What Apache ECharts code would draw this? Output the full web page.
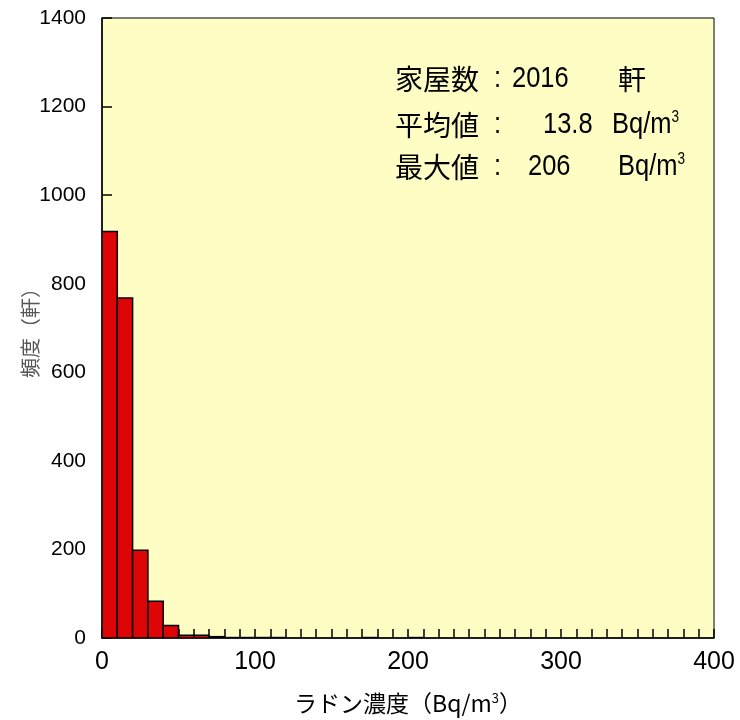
<!DOCTYPE html>
<html>
<head>
<meta charset="utf-8">
<script src="https://cdn.jsdelivr.net/npm/echarts@6/dist/echarts.min.js"></script>
<style>
  html, body { margin: 0; padding: 0; background: #fff; }
  #chart { width: 740px; height: 720px; }
</style>
</head>
<body>
<div id="chart"></div>
<script>
// Histogram of indoor radon concentration (bin width 10 Bq/m3)
const binWidth = 10;
const binStarts = [0, 10, 20, 30, 40, 50, 60, 70, 80, 90, 100, 110, 170, 200];
const binCounts = [918, 768, 198, 83, 28, 6, 6, 3, 1, 1, 1, 1, 1, 1];

const xTicks = [0, 100, 200, 300, 400];
const yTicks = [0, 200, 400, 600, 800, 1000, 1200, 1400];

const statLabels = ['家屋数', '平均値', '最大値'];
const statValues = ['2016', '13.8', '206'];
const statUnits = ['軒', 'Bq/m{s|3}', 'Bq/m{s|3}'];

const latinFont = '"Liberation Sans", Arial, sans-serif';
const cjkFont = '"Noto Sans CJK JP", sans-serif';

const histData = binStarts.map((s, i) => [s, s + binWidth, binCounts[i]]);

const chart = echarts.init(document.getElementById('chart'), null, { renderer: 'canvas' });

// Stats block: left x of each piece and vertical centre of each line
const lineY = [79, 125, 167];
const valueX = [512, 543, 528];
const unitX = [618, 612, 618];
const narrowScale = 0.85;
const graphics = [];
statLabels.forEach((lab, i) => {
  const y = lineY[i];
  graphics.push({ type: 'text', x: 395, y: y,
    style: { text: lab, fill: '#000', fontSize: 28, fontFamily: cjkFont, verticalAlign: 'middle', align: 'left' } });
  graphics.push({ type: 'text', x: 494, y: y, scaleX: narrowScale,
    style: { text: ':', fill: '#000', fontSize: 30, fontFamily: latinFont, verticalAlign: 'middle', align: 'left' } });
  graphics.push({ type: 'text', x: valueX[i], y: y, scaleX: narrowScale,
    style: { text: statValues[i], fill: '#000', fontSize: 30, fontFamily: latinFont, verticalAlign: 'middle', align: 'left' } });
  if (i === 0) {
    graphics.push({ type: 'text', x: unitX[i], y: y,
      style: { text: statUnits[i], fill: '#000', fontSize: 28, fontFamily: cjkFont, verticalAlign: 'middle', align: 'left' } });
  } else {
    graphics.push({ type: 'text', x: unitX[i], y: y, scaleX: narrowScale,
      style: { text: statUnits[i], fill: '#000', fontSize: 30, fontFamily: latinFont, verticalAlign: 'middle', align: 'left',
        rich: { s: { fontSize: 16, fontFamily: latinFont, verticalAlign: 'top', fill: '#000' } } } });
  }
});

chart.setOption({
  animation: false,
  backgroundColor: '#ffffff',
  grid: {
    left: 102, right: 26, top: 18, bottom: 82,
    outerBoundsMode: 'none',
    show: true, backgroundColor: '#fdfdc4', borderColor: '#000', borderWidth: 1
  },
  xAxis: {
    type: 'value', min: xTicks[0], max: xTicks[xTicks.length - 1], interval: 100,
    name: 'ラドン濃度（Bq/m{s|3}）',
    nameLocation: 'middle', nameGap: 54, nameMoveOverlap: false,
    nameTextStyle: {
      color: '#000', fontSize: 23, fontFamily: cjkFont,
      rich: { s: { fontSize: 13, verticalAlign: 'top', fontFamily: cjkFont } }
    },
    axisLine: { show: true, lineStyle: { color: '#000', width: 1.5 } },
    axisTick: { show: true, inside: true, length: 9, lineStyle: { color: '#000', width: 1.5 } },
    minorTick: { show: true, splitNumber: 10, length: 9, lineStyle: { color: '#000', width: 1.5 } },
    splitLine: { show: false },
    axisLabel: { color: '#000', fontSize: 25, fontFamily: latinFont, margin: 12 }
  },
  yAxis: {
    type: 'value', min: yTicks[0], max: yTicks[yTicks.length - 1], interval: 200,
    name: '頻度（軒）',
    nameLocation: 'middle', nameGap: 62, nameRotate: 90, nameMoveOverlap: false,
    nameTextStyle: { color: '#555', fontSize: 20, fontFamily: cjkFont },
    axisLine: { show: true, lineStyle: { color: '#000', width: 1.5 } },
    axisTick: { show: true, inside: true, length: 10, lineStyle: { color: '#000', width: 1.5 } },
    splitLine: { show: false },
    axisLabel: { color: '#000', fontSize: 21, fontFamily: latinFont, margin: 16,
      formatter: function (v) { return String(v); } }
  },
  series: [{
    type: 'custom',
    data: histData,
    encode: { x: [0, 1], y: 2 },
    clip: true,
    renderItem: function (params, api) {
      const p0 = api.coord([api.value(0), api.value(2)]);
      const p1 = api.coord([api.value(1), 0]);
      return {
        type: 'rect',
        shape: { x: p0[0], y: p0[1], width: p1[0] - p0[0], height: p1[1] - p0[1] },
        style: { fill: '#dd0505', stroke: '#000', lineWidth: 1.5 }
      };
    }
  }],
  graphic: graphics
});
</script>
</body>
</html>
